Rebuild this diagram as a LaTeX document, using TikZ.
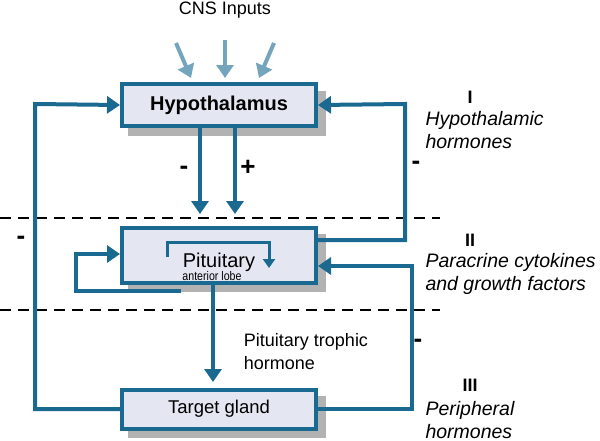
\documentclass[tikz,border=0pt]{standalone}
\usepackage{fontspec}
\setmainfont{Liberation Sans}
\usetikzlibrary{arrows.meta}
\definecolor{fb}{RGB}{25,105,145}
\definecolor{bx}{RGB}{228,231,242}
\tikzset{box/.style={draw=fb,line width=4pt,fill=bx,minimum width=194pt,inner sep=0pt}}
\tikzset{shad/.style={fill=black!30,draw=none}}
\tikzset{ar/.style={draw=fb,line width=4pt,-{Triangle[length=13pt,width=17pt]}}}
\tikzset{ln/.style={draw=fb,line width=4pt}}
\tikzset{sg/.style={font=\fontsize{26}{26}\selectfont\bfseries}}
\tikzset{lab/.style={font=\fontsize{19.5}{23}\selectfont\itshape,align=left,anchor=west}}
\begin{document}
\begin{tikzpicture}[x=1pt,y=-1pt]
\useasboundingbox (0,0) rectangle (600,440);
% shadows
\fill[shad] (128,91) rectangle (326,136);
\fill[shad] (128,234) rectangle (326,292);
\fill[shad] (128,396) rectangle (326,438);
% boxes
\node[box,minimum height=42pt,font=\fontsize{20}{20}\selectfont\bfseries] (hypo) at (219,105) {Hypothalamus};
\node[box,minimum height=55pt] (pit) at (219,255) {};
\node[box,minimum height=39pt,font=\fontsize{18.5}{18.5}\selectfont] (target) at (219,409) {Target gland};
\node[font=\fontsize{20}{20}\selectfont] (pittxt) at (219,262) {Pituitary};
\node[font=\fontsize{12.5}{12.5}\selectfont,xscale=0.85] (lobe) at (212,276) {anterior lobe};
% dashed levels
\draw[line width=1.5pt,dash pattern=on 11pt off 7pt] (0,218) -- (440,218);
\draw[line width=1.5pt,dash pattern=on 11pt off 7pt] (0,310) -- (440,310);
% cns inputs
\node[font=\fontsize{18}{18}\selectfont] (cns) at (225,10) {CNS Inputs};
\coordinate (c1) at (176,43);
\coordinate (c2) at (225,40);
\coordinate (c3) at (274,43);
\draw[ar,draw=fb!60] (c1) -- (191,78);
\draw[ar,draw=fb!60] (c2) -- (225,78);
\draw[ar,draw=fb!60] (c3) -- (259,78);
% hypothalamus to pituitary
\draw[ar] (hypo.south -| 200,0) -- (200,214);
\draw[ar] (hypo.south -| 235,0) -- (235,214);
\node[sg] (minus1) at (184,170) {-};
\node[sg] (plus1) at (248,168) {+};
% long loops
\draw[ar] (target.west) -- (35,409) -- (35,104) -- (hypo.west);
\node[sg] (minus2) at (21,240) {-};
\draw[ar] (pit.east |- 0,240) -- (405,240) -- (405,104) -- (hypo.east);
\node[sg] (minus3) at (416,165) {-};
\draw[ar] (target.east) -- (412,409) -- (412,266) -- (pit.east |- 0,266);
\node[sg] (minus4) at (418,343) {-};
% pituitary loops
\draw[ar] (181,291) -- (76,291) -- (76,254) -- (pit.west |- 0,254);
\draw[ln,line width=3pt,-{Triangle[length=9pt,width=12pt]}] (167,257) -- (167,242) -- (269,242) -- (269,268);
% trophic
\draw[ar] (pit.south -| 213,0) -- (213,382);
\node[font=\fontsize{18}{23}\selectfont,align=left] (troph) at (306,352) {Pituitary trophic\\hormone};
% levels
\node[font=\fontsize{18}{18}\selectfont\bfseries] (l1) at (470,97) {I};
\node[lab] (h1) at (422,130) {Hypothalamic\\hormones};
\node[font=\fontsize{18}{18}\selectfont\bfseries] (l2) at (470,240) {II};
\node[lab] (h2) at (422,274) {Paracrine cytokines\\and growth factors};
\node[font=\fontsize{18}{18}\selectfont\bfseries] (l3) at (470,385) {III};
\node[lab] (h3) at (422,420) {Peripheral\\hormones};
\end{tikzpicture}
\end{document}
